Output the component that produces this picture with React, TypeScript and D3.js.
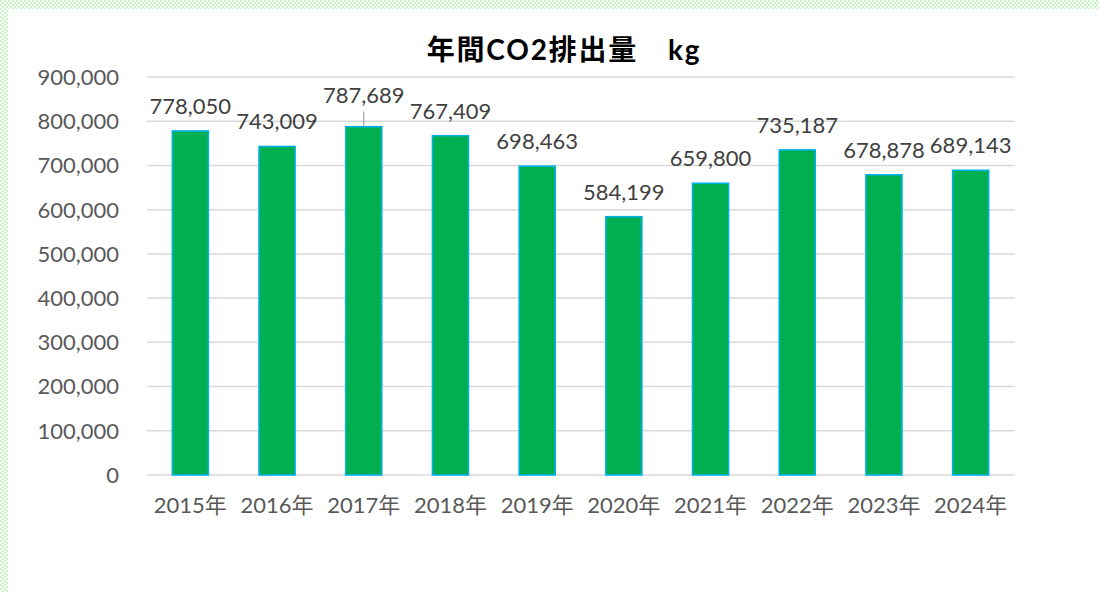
import React from "react";
import * as d3 from "d3";

const years = ["2015年", "2016年", "2017年", "2018年", "2019年", "2020年", "2021年", "2022年", "2023年", "2024年"];
const co2 = [778050, 743009, 787689, 767409, 698463, 584199, 659800, 735187, 678878, 689143];
const yTicks = [0, 100000, 200000, 300000, 400000, 500000, 600000, 700000, 800000, 900000];
// labels pushed up further (Excel moved them and drew a leader line)
const liftedLabels = ["2017年"];

const W = 1099;
const H = 592;
const FONT = "Lato, 'Noto Sans CJK JP', sans-serif";

export default function App() {
  const x = d3
    .scaleBand<string>()
    .domain(years)
    .range([147, 1014])
    .paddingInner(0.5833)
    .paddingOuter(0.2917);
  const y = d3.scaleLinear().domain([0, 900000]).range([475, 77]);
  const fmt = d3.format(",");

  return (
    <svg
      width={W}
      height={H}
      style={{ position: "absolute", left: 0, top: 0, background: "#fff" }}
    >
      <defs>
        <pattern id="chk" width={4} height={4} patternUnits="userSpaceOnUse">
          <rect width={4} height={4} fill="#fff" />
          <rect width={2} height={2} fill="#c8f5c8" />
          <rect x={2} y={2} width={2} height={2} fill="#c8f5c8" />
        </pattern>
      </defs>
      {/* chart area frame */}
      <rect x={0} y={0} width={W} height={9} fill="url(#chk)" />
      <rect x={0} y={0} width={8} height={H} fill="url(#chk)" />

      <text
        x={564}
        y={60}
        textAnchor="middle"
        fontFamily={FONT}
        fontWeight={700}
        fontSize={28}
        letterSpacing={1.8}
        fill="#000"
      >
        年間CO2排出量　kg
      </text>

      {/* gridlines + y ticks */}
      {yTicks.map((t) => (
        <g key={t}>
          <line x1={147} x2={1015} y1={y(t)} y2={y(t)} stroke="#d9d9d9" strokeWidth={1.5} />
          <text
            x={119}
            y={y(t)}
            dy="0.36em"
            textAnchor="end"
            fontFamily={FONT}
            fontSize={22}
            fill="#595959"
          >
            {fmt(t)}
          </text>
        </g>
      ))}

      {/* bars */}
      {years.map((yr, i) => {
        const v = co2[i];
        const bx = x(yr) as number;
        const cx = bx + x.bandwidth() / 2;
        const lifted = liftedLabels.includes(yr);
        return (
          <g key={yr}>
            <rect
              x={bx}
              y={y(v)}
              width={x.bandwidth()}
              height={y(0) - y(v)}
              fill="#00b050"
              stroke="#00b0f0"
              strokeWidth={1.5}
            />
            {lifted && (
              <line x1={cx} x2={cx} y1={y(v) - 15} y2={y(v)} stroke="#a6a6a6" strokeWidth={1.2} />
            )}
            <text
              x={cx}
              y={y(v) - (lifted ? 24 : 17)}
              textAnchor="middle"
              fontFamily={FONT}
              fontSize={22}
              fill="#404040"
            >
              {fmt(v)}
            </text>
            <text
              x={cx}
              y={513}
              textAnchor="middle"
              fontFamily={FONT}
              fontSize={22}
              fill="#595959"
            >
              {yr}
            </text>
          </g>
        );
      })}
    </svg>
  );
}
